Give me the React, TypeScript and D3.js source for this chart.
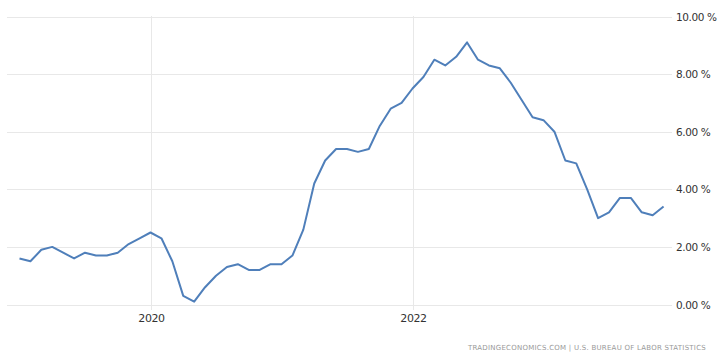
import React from "react";
import * as d3 from "d3";

const startYear = 2019;
const values: number[] = [
  1.6, 1.5, 1.9, 2.0, 1.8, 1.6, 1.8, 1.7, 1.7, 1.8, 2.1, 2.3,
  2.5, 2.3, 1.5, 0.3, 0.1, 0.6, 1.0, 1.3, 1.4, 1.2, 1.2, 1.4,
  1.4, 1.7, 2.6, 4.2, 5.0, 5.4, 5.4, 5.3, 5.4, 6.2, 6.8, 7.0,
  7.5, 7.9, 8.5, 8.3, 8.6, 9.1, 8.5, 8.3, 8.2, 7.7, 7.1, 6.5,
  6.4, 6.0, 5.0, 4.9, 4.0, 3.0, 3.2, 3.7, 3.7, 3.2, 3.1, 3.4,
];
const yTicks = [0, 2, 4, 6, 8, 10];
const xTickYears = [2020, 2022];
const source = "TRADINGECONOMICS.COM  |  U.S. BUREAU OF LABOR STATISTICS";

export default function App() {
  const W = 719, H = 357;
  const x = d3.scaleLinear().domain([0, 12]).range([19.5, 150.5]);
  const y = d3.scaleLinear().domain([0, 10]).range([304.5, 16.5]);
  const line = d3.line<number>().x((_, i) => x(i)).y((d) => y(d));
  const gridL = 7, gridR = 672;
  return (
    <svg width={W} height={H} style={{ position: "absolute", left: 0, top: 0 }}>
      <rect width={W} height={H} fill="#fff" />
      {yTicks.map((t) => (
        <g key={t}>
          <line x1={gridL} x2={gridR} y1={Math.round(y(t)) + 0.5} y2={Math.round(y(t)) + 0.5} stroke="#e8e8e8" strokeWidth={1} />
          <text x={676} y={y(t) + 4} fontFamily="'DejaVu Sans', sans-serif" fontSize={10.5} fill="#333" letterSpacing={-0.4}>
            {t.toFixed(2)} %
          </text>
        </g>
      ))}
      {xTickYears.map((yr) => {
        const xi = Math.round(x((yr - startYear) * 12)) + 0.5;
        return (
          <g key={yr}>
            <line x1={xi} x2={xi} y1={16} y2={310} stroke="#e8e8e8" strokeWidth={1} />
            <text x={xi} y={322} textAnchor="middle" fontFamily="'DejaVu Sans', sans-serif" fontSize={11} fill="#333" letterSpacing={-0.4}>
              {yr}
            </text>
          </g>
        );
      })}
      <path d={line(values) || ""} fill="none" stroke="#4f7fba" strokeWidth={2} strokeLinejoin="round" />
      <text x={706} y={350} textAnchor="end" fontFamily="'DejaVu Sans', sans-serif" fontSize={7} fill="#999" letterSpacing={0.25}>
        {source}
      </text>
    </svg>
  );
}
